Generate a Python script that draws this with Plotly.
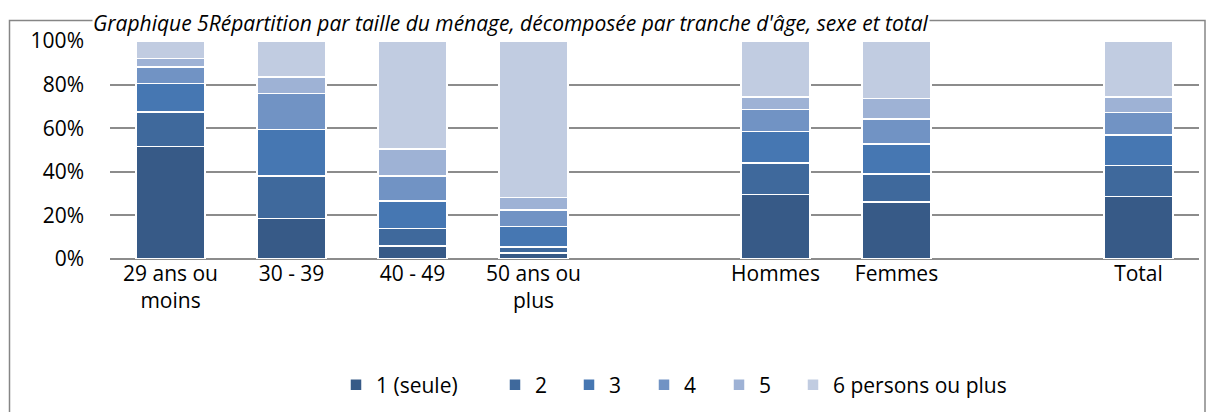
import plotly.graph_objects as go

categories = ["29 ans ou<br>moins", "30 - 39", "40 - 49", "50 ans ou<br>plus", " ",
              "Hommes", "Femmes", "  ", "Total"]
series_names = ["1 (seule)", "2", "3", "4", "5", "6 persons ou plus"]
s1 = [51.5, 18.5, 6.0, 2.8, None, 29.7, 26.2, None, 28.6]
s2 = [16.0, 19.5, 8.0, 2.7, None, 14.3, 12.7, None, 14.2]
s3 = [13.0, 21.5, 12.5, 9.5, None, 14.6, 13.9, None, 14.1]
s4 = [7.5, 16.5, 11.5, 7.5, None, 10.0, 11.5, None, 10.3]
s5 = [4.0, 7.5, 12.5, 5.7, None, 5.7, 9.4, None, 7.1]
s6 = [8.0, 16.5, 49.5, 71.8, None, 25.7, 26.3, None, 25.7]
series = [s1, s2, s3, s4, s5, s6]
colors = ["#375A87", "#3F699C", "#4677B2", "#7193C4", "#9EB2D5", "#C1CCE1"]
tick_vals = [0, 20, 40, 60, 80, 100]
tick_text = ["0%", "20%", "40%", "60%", "80%", "100%"]
title = "Graphique 5Répartition par taille du ménage, décomposée par tranche d'âge, sexe et total"

FONT = "Open Sans"
FS = 21
OFF = 8  # page offset of the figure inside the browser window

W, H = 1215, 412
ml, mt = 110 - OFF, 41 - OFF
pw, ph = 1089, 218
mr = W - ml - pw
mb = H - mt - ph

def px_x(p):  # screen px -> paper x
    return (p - OFF - ml) / pw

def px_y(p):  # screen px -> paper y
    return (H - mb - (p - OFF)) / ph

# legend marker screen positions (layout)
legend_marker_px = [356, 515, 589, 664, 739, 813]

fig = go.Figure()
legend_layout = {}
for i, (name, vals, col) in enumerate(zip(series_names, series, colors)):
    lname = "legend" if i == 0 else f"legend{i+1}"
    fig.add_trace(go.Bar(
        x=categories, y=vals, name=name, legend=lname,
        marker=dict(color=col, line=dict(color="white", width=1.5)),
    ))
    legend_layout[lname] = dict(
        orientation="h", x=px_x(legend_marker_px[i] - 20), xanchor="left",
        y=px_y(385), yanchor="middle", font=dict(size=FS, family=FONT),
        itemwidth=30, bgcolor="rgba(0,0,0,0)")

fig.update_layout(
    width=W, height=H,
    margin=dict(l=ml, r=mr, t=mt, b=mb, pad=0, autoexpand=False),
    barmode="stack", bargap=0.43,
    plot_bgcolor="white", paper_bgcolor="white",
    font=dict(family=FONT, size=FS, color="#000000"),
    showlegend=True,
    xaxis=dict(type="category", categoryorder="array", categoryarray=categories,
               showgrid=False, showline=False, ticks="", zeroline=False,
               ticklabelstandoff=0, tickfont=dict(size=FS), range=[-0.5, 8.5]),
    yaxis=dict(range=[0, 100], tickvals=tick_vals, ticktext=tick_text,
               showgrid=True, gridcolor="#8C8C8C", gridwidth=1.5,
               zeroline=True, zerolinecolor="#8C8C8C", zerolinewidth=1.5,
               showline=False, ticks="", ticklabelstandoff=25, tickfont=dict(size=FS)),
    shapes=[dict(type="rect", xref="paper", yref="paper",
                 x0=px_x(9.5), x1=px_x(1205), y0=px_y(440), y1=px_y(20.5),
                 line=dict(color="#868686", width=1.5), fillcolor="rgba(0,0,0,0)", layer="below")],
    annotations=[dict(text="<i>" + title + "</i>", xref="paper", yref="paper",
                      x=px_x(92), y=px_y(OFF), xanchor="left", yanchor="top",
                      bgcolor="white", borderpad=0,
                      showarrow=False, font=dict(size=21, family=FONT, color="#000000"))],
    **legend_layout,
)
fig.write_html("out.html")
